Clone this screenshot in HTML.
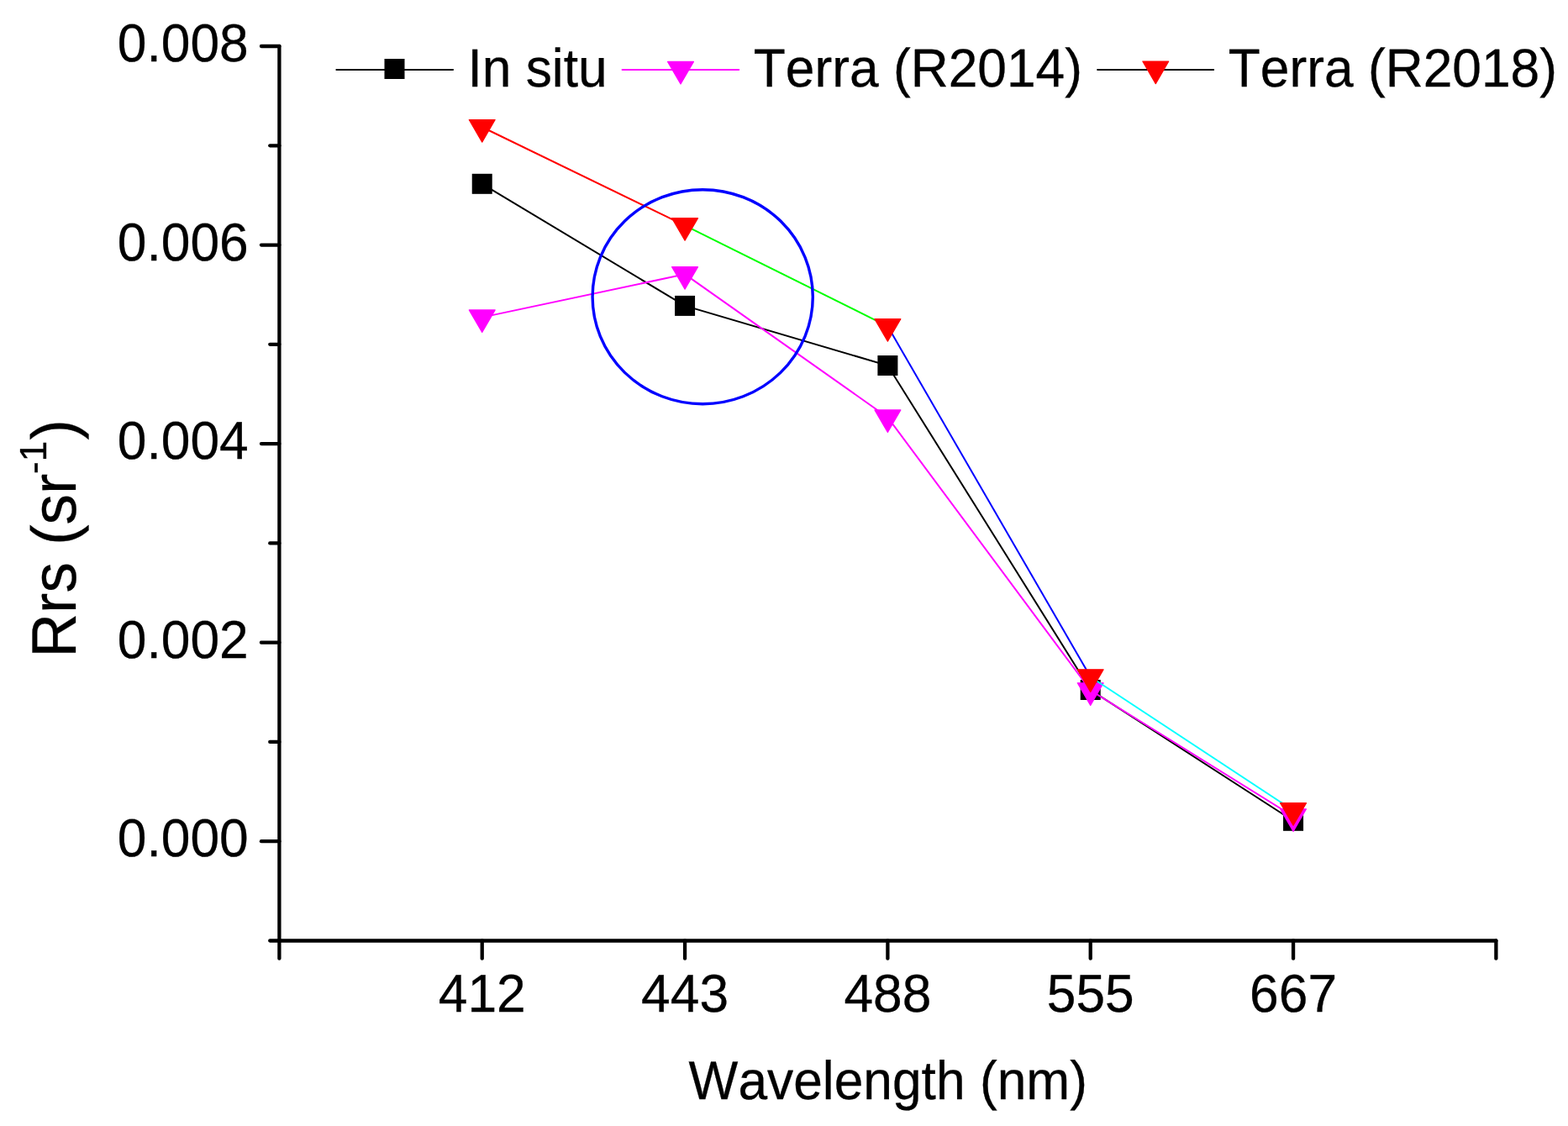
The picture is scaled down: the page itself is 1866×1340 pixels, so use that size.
<!DOCTYPE html>
<html><head><meta charset="utf-8"><title>Rrs spectra</title>
<style>html,body{margin:0;padding:0;background:#fff;} svg{display:block;}</style>
</head><body>
<svg width="1866" height="1340" viewBox="0 0 1866 1340"><g stroke="#000" stroke-width="4.3" stroke-linecap="round" fill="none">
<path d="M332.4,55.0 V1119.5" />
<path d="M332.4,1119.5 H1780.4" />
<path d="M310.95,1001.22 H332.4" />
<path d="M310.95,764.67 H332.4" />
<path d="M310.95,528.11 H332.4" />
<path d="M310.95,291.56 H332.4" />
<path d="M310.95,55.00 H332.4" />
<path d="M321.25,1119.50 H332.4" />
<path d="M321.25,882.94 H332.4" />
<path d="M321.25,646.39 H332.4" />
<path d="M321.25,409.83 H332.4" />
<path d="M321.25,173.28 H332.4" />
<path d="M332.40,1119.5 V1140.65" />
<path d="M573.73,1119.5 V1140.65" />
<path d="M815.07,1119.5 V1140.65" />
<path d="M1056.40,1119.5 V1140.65" />
<path d="M1297.73,1119.5 V1140.65" />
<path d="M1539.07,1119.5 V1140.65" />
<path d="M1780.40,1119.5 V1140.65" />
</g>
<polyline points="573.73,218.80 815.07,363.90 1056.40,435.00 1297.73,821.00 1539.07,976.80" fill="none" stroke="#000" stroke-width="2"/>
<rect x="561.73" y="206.80" width="24" height="24" fill="#000"/>
<rect x="803.07" y="351.90" width="24" height="24" fill="#000"/>
<rect x="1044.40" y="423.00" width="24" height="24" fill="#000"/>
<rect x="1285.73" y="809.00" width="24" height="24" fill="#000"/>
<rect x="1527.07" y="964.80" width="24" height="24" fill="#000"/>
<polyline points="573.73,377.63 815.07,326.33 1056.40,496.63 1297.73,821.53 1539.07,971.53" fill="none" stroke="#ff00ff" stroke-width="2"/>
<polygon points="558.28,368.90 589.18,368.90 573.73,395.50" fill="#ff00ff" stroke="#ff00ff" stroke-width="1.2" stroke-linejoin="round"/>
<polygon points="799.62,317.60 830.52,317.60 815.07,344.20" fill="#ff00ff" stroke="#ff00ff" stroke-width="1.2" stroke-linejoin="round"/>
<polygon points="1040.95,487.90 1071.85,487.90 1056.40,514.50" fill="#ff00ff" stroke="#ff00ff" stroke-width="1.2" stroke-linejoin="round"/>
<polygon points="1282.28,812.80 1313.18,812.80 1297.73,839.40" fill="#ff00ff" stroke="#ff00ff" stroke-width="1.2" stroke-linejoin="round"/>
<polygon points="1523.62,962.80 1554.52,962.80 1539.07,989.40" fill="#ff00ff" stroke="#ff00ff" stroke-width="1.2" stroke-linejoin="round"/>
<line x1="573.73" y1="151.23" x2="815.07" y2="268.33" stroke="#ff0000" stroke-width="2"/>
<line x1="815.07" y1="268.33" x2="1056.40" y2="388.33" stroke="#00ff00" stroke-width="2"/>
<line x1="1056.40" y1="388.33" x2="1297.73" y2="805.53" stroke="#0000ff" stroke-width="2"/>
<line x1="1297.73" y1="805.53" x2="1539.07" y2="964.43" stroke="#00ffff" stroke-width="2"/>
<polygon points="558.28,142.50 589.18,142.50 573.73,169.10" fill="#ff0000" stroke="#ff0000" stroke-width="1.2" stroke-linejoin="round"/>
<polygon points="799.62,259.60 830.52,259.60 815.07,286.20" fill="#ff0000" stroke="#ff0000" stroke-width="1.2" stroke-linejoin="round"/>
<polygon points="1040.95,379.60 1071.85,379.60 1056.40,406.20" fill="#ff0000" stroke="#ff0000" stroke-width="1.2" stroke-linejoin="round"/>
<polygon points="1282.28,796.80 1313.18,796.80 1297.73,823.40" fill="#ff0000" stroke="#ff0000" stroke-width="1.2" stroke-linejoin="round"/>
<polygon points="1523.62,955.70 1554.52,955.70 1539.07,982.30" fill="#ff0000" stroke="#ff0000" stroke-width="1.2" stroke-linejoin="round"/>
<ellipse cx="836.2" cy="353.2" rx="131.1" ry="127.5" fill="none" stroke="#0000ff" stroke-width="3.4"/>
<line x1="399.6" y1="82.9" x2="539.8" y2="82.9" stroke="#000" stroke-width="2"/>
<rect x="457.50" y="70.00" width="24" height="24" fill="#000"/>
<line x1="739.8" y1="82.9" x2="880.0" y2="82.9" stroke="#ff00ff" stroke-width="2"/>
<polygon points="794.55,73.40 825.45,73.40 810.00,100.00" fill="#ff00ff" stroke="#ff00ff" stroke-width="1.2" stroke-linejoin="round"/>
<line x1="1305.4" y1="82.9" x2="1445.0" y2="82.9" stroke="#000" stroke-width="2"/>
<polygon points="1359.85,73.00 1390.75,73.00 1375.30,99.60" fill="#ff0000" stroke="#ff0000" stroke-width="1.2" stroke-linejoin="round"/>
<g font-family="Liberation Sans, Arial, sans-serif" fill="#000" stroke="#000" stroke-width="0.3" style="font-kerning:none;text-rendering:geometricPrecision">
<text transform="translate(556.40,103.00) scale(1,1.03)" font-size="62.3">In situ</text>
<text transform="translate(896.80,103.00) scale(1,1.03)" font-size="62.3">Terra (R2014)</text>
<text transform="translate(1461.80,103.00) scale(1,1.03)" font-size="62.3">Terra (R2018)</text>
<text transform="translate(295.70,1019.42) scale(1,1.02)" font-size="62.3" text-anchor="end">0.000</text>
<text transform="translate(295.70,782.87) scale(1,1.02)" font-size="62.3" text-anchor="end">0.002</text>
<text transform="translate(295.70,546.31) scale(1,1.02)" font-size="62.3" text-anchor="end">0.004</text>
<text transform="translate(295.70,309.76) scale(1,1.02)" font-size="62.3" text-anchor="end">0.006</text>
<text transform="translate(295.70,73.20) scale(1,1.02)" font-size="62.3" text-anchor="end">0.008</text>
<text transform="translate(573.73,1204.00) scale(1,1.02)" font-size="62.3" text-anchor="middle">412</text>
<text transform="translate(815.07,1204.00) scale(1,1.02)" font-size="62.3" text-anchor="middle">443</text>
<text transform="translate(1056.40,1204.00) scale(1,1.02)" font-size="62.3" text-anchor="middle">488</text>
<text transform="translate(1297.73,1204.00) scale(1,1.02)" font-size="62.3" text-anchor="middle">555</text>
<text transform="translate(1539.07,1204.00) scale(1,1.02)" font-size="62.3" text-anchor="middle">667</text>
<text transform="translate(819.60,1307.90) scale(1,1.04)" font-size="62.3">Wavelength (nm)</text>
<g transform="translate(89.9,782.6) rotate(-90)">
<text transform="translate(0.00,0.00) scale(1,1.024)" font-size="73">Rrs (sr</text>
<text transform="translate(218.70,-34.60) scale(1,1.024)" font-size="44">-1</text>
<text transform="translate(259.02,0.00) scale(1,1.024)" font-size="73">)</text>
</g>
</g></svg>
</body></html>
